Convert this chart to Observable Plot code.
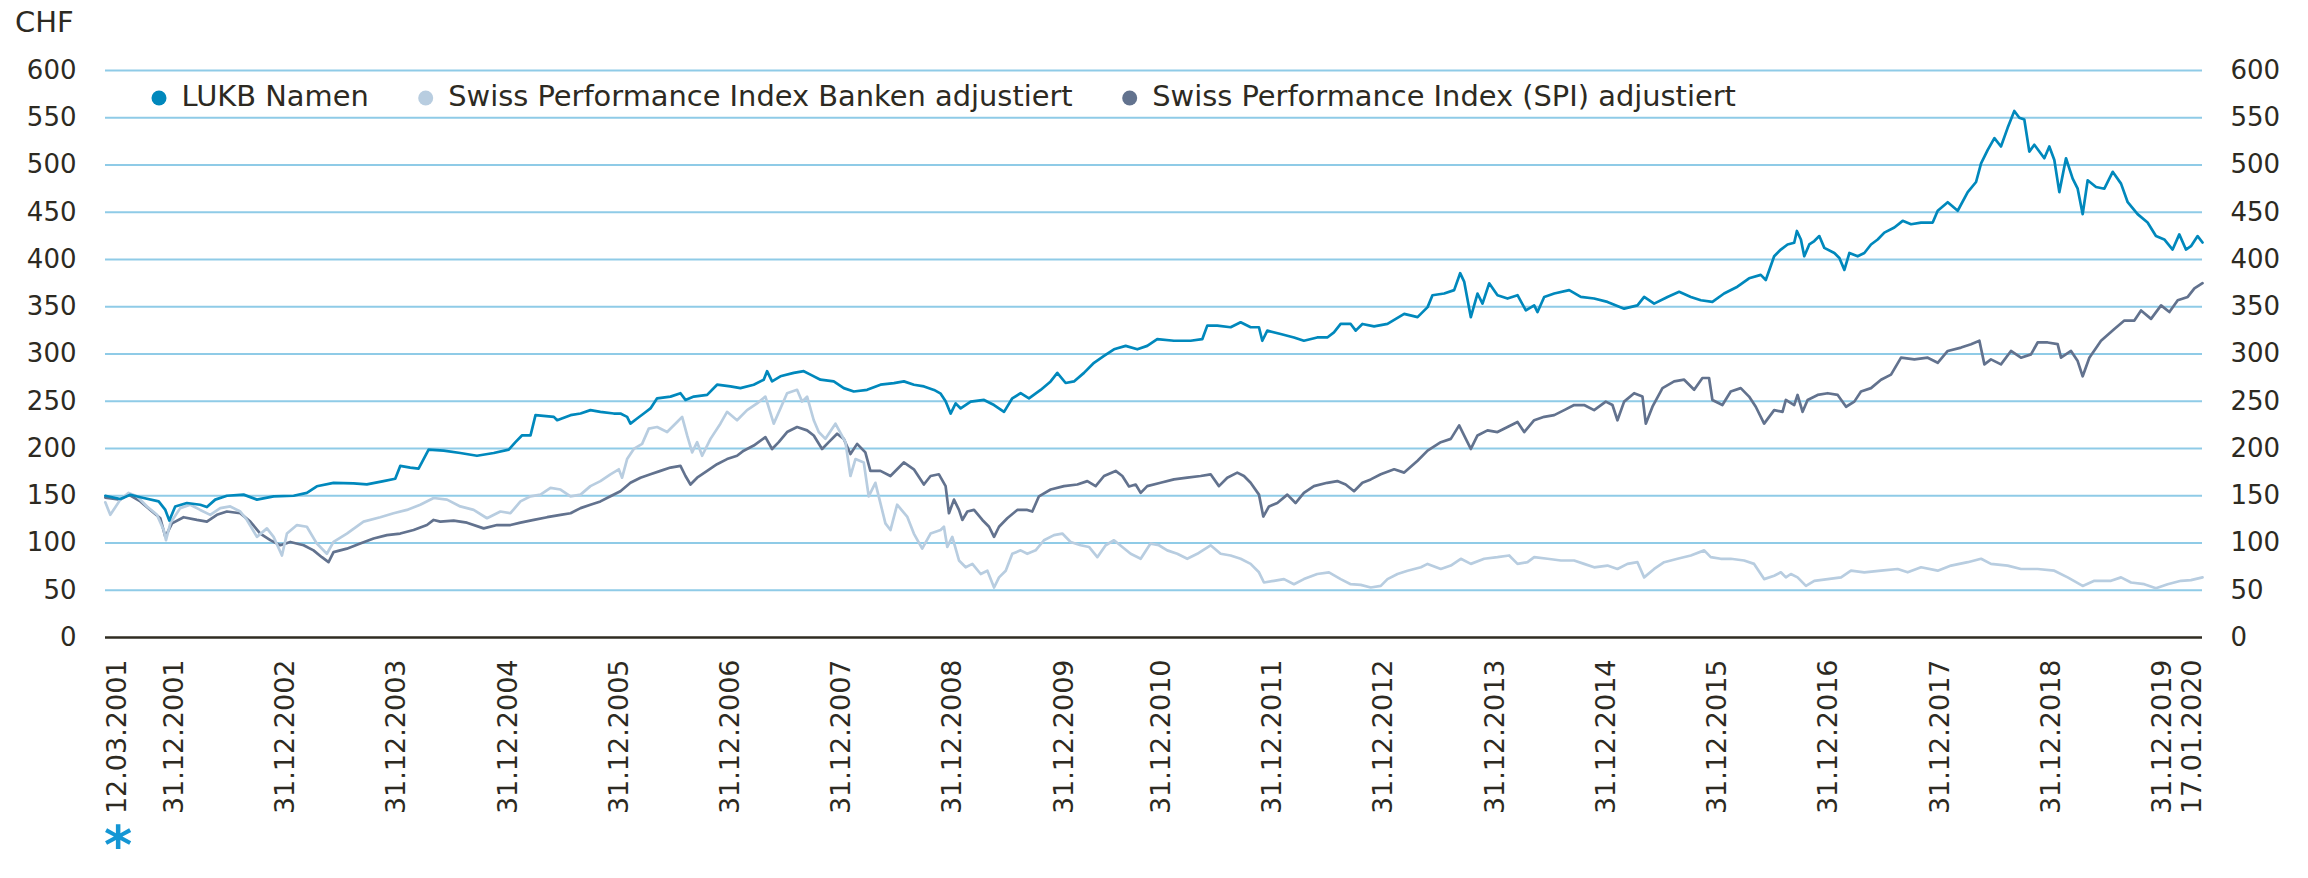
<!DOCTYPE html>
<html>
<head>
<meta charset="utf-8">
<script src="https://cdn.jsdelivr.net/npm/d3@7"></script>
<script src="https://cdn.jsdelivr.net/npm/@observablehq/plot@0.6"></script>
<style>
  html, body { margin: 0; padding: 0; background: #ffffff; }
  #chart { width: 2308px; height: 878px; overflow: hidden; }
</style>
</head>
<body>
<div id="chart"></div>
<script>
// ---------- data (decimal year, CHF) ----------
const unitLabel = "CHF";
const footnoteMark = "*";
const seriesNames = ["LUKB Namen", "Swiss Performance Index Banken adjustiert", "Swiss Performance Index (SPI) adjustiert"];
const yTicks = [0, 50, 100, 150, 200, 250, 300, 350, 400, 450, 500, 550, 600];
const xTickLabels = ["12.03.2001", "31.12.2001", "31.12.2002", "31.12.2003", "31.12.2004", "31.12.2005",
  "31.12.2006", "31.12.2007", "31.12.2008", "31.12.2009", "31.12.2010", "31.12.2011", "31.12.2012",
  "31.12.2013", "31.12.2014", "31.12.2015", "31.12.2016", "31.12.2017", "31.12.2018", "31.12.2019", "17.01.2020"];

const lukb = [
  [2001.19,150],[2001.325,146.6],[2001.415,151],[2001.535,147.6],[2001.67,144],[2001.73,135],[2001.766,123.7],
  [2001.819,138.7],[2001.924,142.3],[2002.044,140.5],[2002.104,138],[2002.179,145.9],[2002.284,150],[2002.434,151.2],
  [2002.554,145.9],[2002.704,149.4],[2002.884,150],[2003.003,153],[2003.093,160],[2003.243,163.7],[2003.423,163],
  [2003.543,162],[2003.693,165.5],[2003.798,168],[2003.843,181.6],[2003.933,179.8],[2004.008,178.8],[2004.098,198.8],
  [2004.233,197.7],[2004.382,195.2],[2004.532,192.3],[2004.682,195.2],[2004.817,198.8],[2004.877,206.7],[2004.937,214],
  [2005.012,213.8],[2005.057,235.3],[2005.222,233.5],[2005.252,229.9],[2005.372,235.3],[2005.462,237],[2005.551,240.6],
  [2005.641,238.8],[2005.761,237],[2005.821,237],[2005.881,233.5],[2005.911,226.3],[2005.971,231.7],[2006.031,237],
  [2006.091,242.4],[2006.151,253.1],[2006.271,254.9],[2006.361,258.5],[2006.406,251.4],[2006.481,254.9],[2006.601,256.7],
  [2006.69,267.5],[2006.81,265.7],[2006.9,263.9],[2007.02,267.5],[2007.11,272.8],[2007.14,281.8],[2007.185,271],
  [2007.26,276.4],[2007.38,280],[2007.47,281.8],[2007.53,278.2],[2007.62,272.8],[2007.74,271],[2007.83,263.9],
  [2007.92,260.3],[2008.04,262.1],[2008.16,267.5],[2008.28,269.2],[2008.37,271],[2008.46,267.5],[2008.55,265.7],
  [2008.64,262],[2008.7,258],[2008.744,250],[2008.789,237],[2008.834,247.8],[2008.879,242.4],[2008.969,249.6],
  [2009.089,251.4],[2009.179,246],[2009.269,238.8],[2009.343,253.1],[2009.418,258.5],[2009.493,253.1],[2009.598,262],
  [2009.688,271],[2009.748,280],[2009.823,269.3],[2009.898,271],[2009.988,280],[2010.078,290.7],[2010.168,297.9],
  [2010.258,305],[2010.363,308.6],[2010.468,305],[2010.557,308.6],[2010.647,315.7],[2010.797,314],[2010.947,314],
  [2011.052,315.7],[2011.097,330],[2011.187,330],[2011.307,328.3],[2011.397,333.6],[2011.487,328.3],[2011.562,328.3],
  [2011.592,314],[2011.637,324.7],[2011.757,321.1],[2011.877,317.5],[2011.966,314],[2012.086,317.5],[2012.176,317.5],
  [2012.236,322.9],[2012.296,331.8],[2012.386,331.8],[2012.431,324.7],[2012.491,331.8],[2012.596,329.3],[2012.716,331.8],
  [2012.866,342.5],[2012.986,339],[2013.076,349.6],[2013.12,362.2],[2013.225,364],[2013.315,367.6],[2013.369,385.5],
  [2013.405,376.6],[2013.465,339],[2013.525,364],[2013.57,353.3],[2013.63,374.8],[2013.705,362.2],[2013.795,358.7],
  [2013.885,362.2],[2013.96,346.1],[2014.035,351.5],[2014.065,344.4],[2014.125,360.4],[2014.215,364],[2014.35,367.6],
  [2014.454,360.4],[2014.574,358.7],[2014.694,355.1],[2014.844,348],[2014.964,351.5],[2015.024,360.4],[2015.114,353.3],
  [2015.234,360.4],[2015.339,365.8],[2015.444,360.4],[2015.534,356.9],[2015.638,355.1],[2015.743,364],[2015.863,371.2],
  [2015.968,380.1],[2016.073,383.7],[2016.118,378.3],[2016.193,403.4],[2016.253,410.5],[2016.313,415.9],[2016.373,417.7],
  [2016.397,430.2],[2016.433,421.2],[2016.463,403.4],[2016.508,415.9],[2016.553,419.5],[2016.598,424.8],[2016.643,412.3],
  [2016.733,406.9],[2016.778,401.6],[2016.823,389],[2016.868,406.9],[2016.942,403.4],[2017.002,406.9],[2017.062,415.9],
  [2017.122,421.2],[2017.182,428.4],[2017.272,433.8],[2017.347,440.9],[2017.422,437.3],[2017.512,439.1],[2017.617,439.1],
  [2017.662,451.6],[2017.752,460.6],[2017.842,451.6],[2017.932,471.3],[2018.007,482],[2018.052,501.7],[2018.112,516],
  [2018.172,528.5],[2018.231,519.6],[2018.291,539.3],[2018.351,557.2],[2018.396,550],[2018.441,548.2],[2018.486,514.2],
  [2018.531,521.4],[2018.621,507.1],[2018.666,519.6],[2018.711,505.3],[2018.756,471.3],[2018.816,507.1],[2018.876,485.6],
  [2018.921,474.9],[2018.966,448],[2019.011,483.8],[2019.086,476.7],[2019.161,474.9],[2019.236,492.8],[2019.311,480.3],
  [2019.371,460.6],[2019.46,448],[2019.55,439.1],[2019.625,424.8],[2019.7,421.2],[2019.775,410.5],[2019.835,426.6],
  [2019.895,410.5],[2019.94,414.1],[2020.0,424.8],[2020.044,418]
];

const banken = [
  [2001.19,143],[2001.235,129.8],[2001.325,145.9],[2001.40,153],[2001.475,149.4],[2001.565,138.7],[2001.655,129.8],
  [2001.715,113.7],[2001.736,103],[2001.775,120.8],[2001.864,136.9],[2001.954,140.5],[2002.044,135],[2002.134,129.8],
  [2002.224,136.9],[2002.314,138.7],[2002.404,133.3],[2002.464,124.4],[2002.554,106.5],[2002.644,115.5],[2002.704,106.5],
  [2002.779,86.8],[2002.824,110],[2002.914,119],[2003.003,117.2],[2003.093,99.4],[2003.183,88.6],[2003.243,101.1],
  [2003.363,110],[2003.513,122.6],[2003.663,127.3],[2003.783,131.5],[2003.903,135],[2004.023,140.5],[2004.143,147.6],
  [2004.263,145.9],[2004.382,138.7],[2004.502,135],[2004.622,126.2],[2004.742,133.3],[2004.832,131.5],[2004.922,144],
  [2005.012,149.4],[2005.102,151.2],[2005.192,158.4],[2005.282,156.6],[2005.372,149.4],[2005.462,151.2],[2005.551,160.2],
  [2005.641,165.5],[2005.731,172.7],[2005.806,178],[2005.836,169.1],[2005.881,188.8],[2005.941,199.5],[2006.016,204.9],
  [2006.076,221],[2006.151,222.7],[2006.241,217.4],[2006.331,228.1],[2006.376,233.5],[2006.421,213.8],[2006.466,195.9],
  [2006.511,206.7],[2006.556,192.3],[2006.631,210.2],[2006.72,226.3],[2006.78,238.8],[2006.87,229.9],[2006.96,240.6],
  [2007.05,247.8],[2007.125,254.9],[2007.2,226.3],[2007.26,242.4],[2007.32,258.5],[2007.41,262.1],[2007.455,249.6],
  [2007.5,254.9],[2007.56,229.9],[2007.605,217.4],[2007.665,210.2],[2007.755,226.3],[2007.845,206.7],[2007.89,170.9],
  [2007.935,188.8],[2008.01,185.2],[2008.054,149.4],[2008.114,163.7],[2008.204,120.8],[2008.249,113.7],[2008.309,140.5],
  [2008.399,128],[2008.459,110],[2008.534,94],[2008.609,110],[2008.699,113.7],[2008.729,117.2],[2008.759,95.8],
  [2008.804,106.5],[2008.864,81.5],[2008.924,74.3],[2008.984,77.9],[2009.059,67.2],[2009.119,70.7],[2009.179,52.9],
  [2009.224,63.6],[2009.284,70.7],[2009.343,88.6],[2009.418,92.2],[2009.478,88.6],[2009.553,92.2],[2009.628,102.9],
  [2009.718,108.3],[2009.793,110],[2009.868,101.1],[2009.958,97.6],[2010.033,95.8],[2010.108,85],[2010.183,97.6],
  [2010.258,102.9],[2010.333,95.8],[2010.408,88.6],[2010.498,83.3],[2010.587,99.4],[2010.662,97.6],[2010.737,92.2],
  [2010.827,88.6],[2010.917,83.3],[2011.007,88.6],[2011.127,97.6],[2011.217,88.6],[2011.307,86.8],[2011.397,83.3],
  [2011.487,77.9],[2011.562,69],[2011.607,58.2],[2011.697,60],[2011.787,61.8],[2011.877,56.4],[2011.966,61.8],
  [2012.086,67.2],[2012.191,69],[2012.296,61.8],[2012.386,56.4],[2012.476,55.7],[2012.566,52.9],[2012.656,54.6],
  [2012.716,61.8],[2012.806,67.2],[2012.896,70.7],[2013.016,74.3],[2013.076,77.9],[2013.195,72.5],[2013.285,76.1],
  [2013.375,83.3],[2013.465,77.9],[2013.585,83.3],[2013.705,85],[2013.81,86.8],[2013.885,77.9],[2013.975,79.7],
  [2014.035,85],[2014.155,83.3],[2014.275,81.5],[2014.394,81.5],[2014.484,77.9],[2014.574,74.3],[2014.694,76.1],
  [2014.784,72.5],[2014.874,77.9],[2014.964,79.7],[2015.024,63.6],[2015.114,72.5],[2015.204,79.7],[2015.324,83.3],
  [2015.444,86.8],[2015.564,92.2],[2015.623,85],[2015.713,83.3],[2015.803,83.3],[2015.923,81.5],[2016.013,77.9],
  [2016.103,61.8],[2016.193,65.4],[2016.253,69],[2016.298,63.6],[2016.343,67.2],[2016.403,63.6],[2016.478,54.6],
  [2016.553,60],[2016.673,61.8],[2016.793,63.6],[2016.882,70.7],[2017.002,69],[2017.152,70.7],[2017.302,72.5],
  [2017.392,69],[2017.512,74.3],[2017.662,70.7],[2017.782,76.1],[2017.932,79.7],[2018.052,83.3],[2018.141,77.9],
  [2018.291,76.1],[2018.411,72.5],[2018.561,72.5],[2018.711,70.7],[2018.831,63.6],[2018.966,54.6],[2019.071,60],
  [2019.221,60],[2019.311,63.6],[2019.401,58.2],[2019.52,56.4],[2019.625,52.1],[2019.73,56.4],[2019.85,60],
  [2019.94,60.7],[2020.044,63.6]
];

const spi = [
  [2001.19,148],[2001.325,145.9],[2001.40,151.2],[2001.505,144],[2001.595,135],[2001.685,126.2],[2001.73,106.5],
  [2001.79,120.8],[2001.894,127.3],[2002.014,124.4],[2002.104,122.6],[2002.194,129.8],[2002.284,133.3],[2002.404,131.5],
  [2002.494,122.6],[2002.584,110],[2002.674,103],[2002.764,97.6],[2002.854,101.1],[2002.974,97.6],[2003.063,92.2],
  [2003.138,85],[2003.198,79.7],[2003.243,90.4],[2003.363,94],[2003.483,99.4],[2003.603,104.7],[2003.723,108.3],
  [2003.843,110],[2003.963,113.7],[2004.083,119],[2004.143,124.4],[2004.203,122.6],[2004.323,123.7],[2004.442,121.5],
  [2004.592,115.5],[2004.712,119],[2004.832,119],[2004.922,121.5],[2005.042,124.4],[2005.162,127.3],[2005.282,129.8],
  [2005.372,131.5],[2005.462,136.9],[2005.551,140.5],[2005.641,144],[2005.731,149.4],[2005.821,154.8],[2005.911,163.7],
  [2006.001,169.1],[2006.091,172.7],[2006.181,176.3],[2006.271,179.8],[2006.361,181.6],[2006.406,170.9],[2006.451,161.9],
  [2006.511,169.1],[2006.601,176.3],[2006.69,183.4],[2006.78,188.8],[2006.87,192.3],[2006.93,197.7],[2007.02,203.1],
  [2007.125,212],[2007.185,199.5],[2007.245,206.7],[2007.32,217.4],[2007.41,222.7],[2007.5,219.2],[2007.56,213.8],
  [2007.635,199.5],[2007.695,206.7],[2007.77,215.6],[2007.83,210.2],[2007.89,194.1],[2007.95,204.9],[2008.024,195.9],
  [2008.069,176.3],[2008.159,176.3],[2008.249,170.9],[2008.369,185.2],[2008.459,178],[2008.549,161.9],[2008.609,170.9],
  [2008.684,172.7],[2008.744,160.2],[2008.774,131.5],[2008.819,145.9],[2008.864,135],[2008.894,124.4],[2008.939,133.3],
  [2008.999,135],[2009.074,124.4],[2009.134,117.2],[2009.179,106.5],[2009.224,117.2],[2009.298,126.2],[2009.388,135],
  [2009.478,135],[2009.523,133.3],[2009.583,149.4],[2009.688,156.6],[2009.808,160.2],[2009.928,161.9],[2010.018,165.5],
  [2010.093,160.2],[2010.168,170.9],[2010.273,176.3],[2010.333,170.9],[2010.393,159.8],[2010.453,161.9],[2010.498,153],
  [2010.557,160.2],[2010.677,163.7],[2010.797,167.3],[2010.917,169.1],[2011.037,170.9],[2011.127,172.7],[2011.202,160.2],
  [2011.277,169.1],[2011.367,174.5],[2011.427,170.9],[2011.487,163.7],[2011.562,151.2],[2011.601,128],[2011.652,138.7],
  [2011.727,142.3],[2011.817,151.2],[2011.891,142.3],[2011.966,153],[2012.056,160.2],[2012.176,163.7],[2012.266,165.5],
  [2012.341,161.9],[2012.416,154.8],[2012.491,163.7],[2012.566,167.3],[2012.656,172.7],[2012.776,178],[2012.866,174.5],
  [2012.986,187],[2013.076,197.7],[2013.195,206.7],[2013.285,210.2],[2013.36,224.5],[2013.42,210.2],[2013.465,199.5],
  [2013.525,213.8],[2013.615,219.2],[2013.705,217.4],[2013.795,222.7],[2013.885,228.1],[2013.945,217.4],[2014.035,229.9],
  [2014.125,233.5],[2014.215,235.3],[2014.305,240.6],[2014.394,246],[2014.484,246],[2014.574,240.6],[2014.679,249.6],
  [2014.739,246],[2014.784,229.9],[2014.844,249.6],[2014.934,258.5],[2015.009,254.9],[2015.039,226.3],[2015.099,244.2],
  [2015.189,263.9],[2015.294,271],[2015.384,272.8],[2015.474,262.1],[2015.548,274.6],[2015.608,274.6],[2015.638,251.4],
  [2015.728,246],[2015.803,260.3],[2015.893,263.9],[2015.968,254.9],[2016.028,244.2],[2016.103,226.3],[2016.193,240.6],
  [2016.268,238.8],[2016.298,251.4],[2016.373,246],[2016.403,256.7],[2016.448,238.8],[2016.493,251.4],[2016.583,256.7],
  [2016.673,258.5],[2016.763,256.7],[2016.838,244.2],[2016.912,249.6],[2016.972,260.3],[2017.062,263.9],[2017.152,272.8],
  [2017.242,278.2],[2017.332,296.1],[2017.452,294.3],[2017.572,296.1],[2017.662,290.7],[2017.752,303.2],[2017.872,306.8],
  [2017.962,310.4],[2018.037,314],[2018.082,289],[2018.141,294.3],[2018.231,289],[2018.321,303.2],[2018.411,296.1],
  [2018.501,299.6],[2018.561,312.2],[2018.651,312.2],[2018.741,310.4],[2018.771,296.1],[2018.861,303.2],[2018.921,292.5],
  [2018.966,276.4],[2019.026,296.1],[2019.131,314],[2019.251,326.5],[2019.341,335.4],[2019.431,335.4],[2019.491,346.1],
  [2019.581,337.2],[2019.671,351.5],[2019.746,344.4],[2019.821,356.9],[2019.911,360.4],[2019.971,369.4],[2020.044,375]
];

// ---------- styling ----------
const FONT = "'DejaVu Sans', sans-serif";
const TEXT = "#2d2a22";
const GRID = "#8fcbe7";
const AXIS = "#2f2c22";
const C_LUKB = "#0088bc";
const C_BANK = "#b8cde0";
const C_SPI = "#62728e";
const colors = [C_LUKB, C_BANK, C_SPI];

const parseLabel = d3.utcParse("%d.%m.%Y");
const tickDates = xTickLabels.map(parseLabel);
const labelByTime = new Map(xTickLabels.map((l, i) => [tickDates[i].getTime(), l]));
function toDate(t) {
  const y = Math.floor(t);
  const a = Date.UTC(y, 0, 1), b = Date.UTC(y + 1, 0, 1);
  return new Date(a + (t - y) * (b - a));
}
const fmt = d => labelByTime.get(d.getTime()) ?? "";
const X = d => toDate(d[0]);
const Y = d => d[1];

const xAxisStyle = { tickFormat: fmt, tickRotate: -90, tickSize: 0, tickPadding: 22, label: null, fontSize: 27 };

const W = 2308, H = 878;
const chart = Plot.plot({
  width: W, height: H,
  marginLeft: 105, marginRight: 106, marginTop: 70, marginBottom: 241,
  style: { fontFamily: FONT, fontSize: "26px", color: TEXT, background: "#ffffff", overflow: "visible" },
  x: { type: "utc", domain: [tickDates[0], tickDates[tickDates.length - 1]] },
  y: { domain: [0, 600] },
  marks: [
    Plot.ruleY(yTicks.filter(d => d > 0), { stroke: GRID, strokeWidth: 2.2 }),
    Plot.axisY({ ticks: yTicks, anchor: "left", tickSize: 0, tickPadding: 29, label: null }),
    Plot.axisY({ ticks: yTicks, anchor: "right", tickSize: 0, tickPadding: 28, label: null }),
    Plot.axisX({ ...xAxisStyle, ticks: tickDates.slice(0, 1), dx: 12 }),
    Plot.axisX({ ...xAxisStyle, ticks: tickDates.slice(1, 10), dx: -21 }),
    Plot.axisX({ ...xAxisStyle, ticks: tickDates.slice(10, -1), dx: -35 }),
    Plot.axisX({ ...xAxisStyle, ticks: tickDates.slice(-1), dx: -10 }),
    Plot.line(spi, { x: X, y: Y, stroke: C_SPI, strokeWidth: 2.7 }),
    Plot.line(banken, { x: X, y: Y, stroke: C_BANK, strokeWidth: 2.7 }),
    Plot.line(lukb, { x: X, y: Y, stroke: C_LUKB, strokeWidth: 2.7 }),
    Plot.ruleY([0], { stroke: AXIS, strokeWidth: 2.6 })
  ]
});
document.getElementById("chart").appendChild(chart);

// ---------- unit label, legend, footnote mark ----------
const svg = d3.select(chart);
svg.append("text").text(unitLabel)
  .attr("x", 15).attr("y", 32).attr("text-anchor", "start")
  .attr("font-family", FONT).attr("font-size", 29).attr("fill", TEXT);

const legend = svg.append("g").attr("font-family", FONT).attr("fill", TEXT).attr("text-anchor", "start");
// fit legend font to the reference width of the last entry
const probe = legend.append("text").attr("font-size", 26).text(seriesNames[2]);
const legendSize = Math.max(22, Math.min(32, 26 * 584 / probe.node().getComputedTextLength()));
probe.remove();
let cx = 159;
seriesNames.forEach((name, i) => {
  legend.append("circle").attr("cx", cx).attr("cy", 98).attr("r", 7.5).attr("fill", colors[i]);
  const t = legend.append("text").attr("x", cx + 22.5).attr("y", 106)
    .attr("font-size", legendSize).text(name);
  cx = cx + 22.5 + t.node().getComputedTextLength() + 57;
});

svg.append("text").text(footnoteMark)
  .attr("x", 104).attr("y", 864).attr("text-anchor", "start")
  .attr("font-family", FONT).attr("font-weight", "bold").attr("font-size", 54)
  .attr("fill", "#1496d4");
</script>
</body>
</html>
